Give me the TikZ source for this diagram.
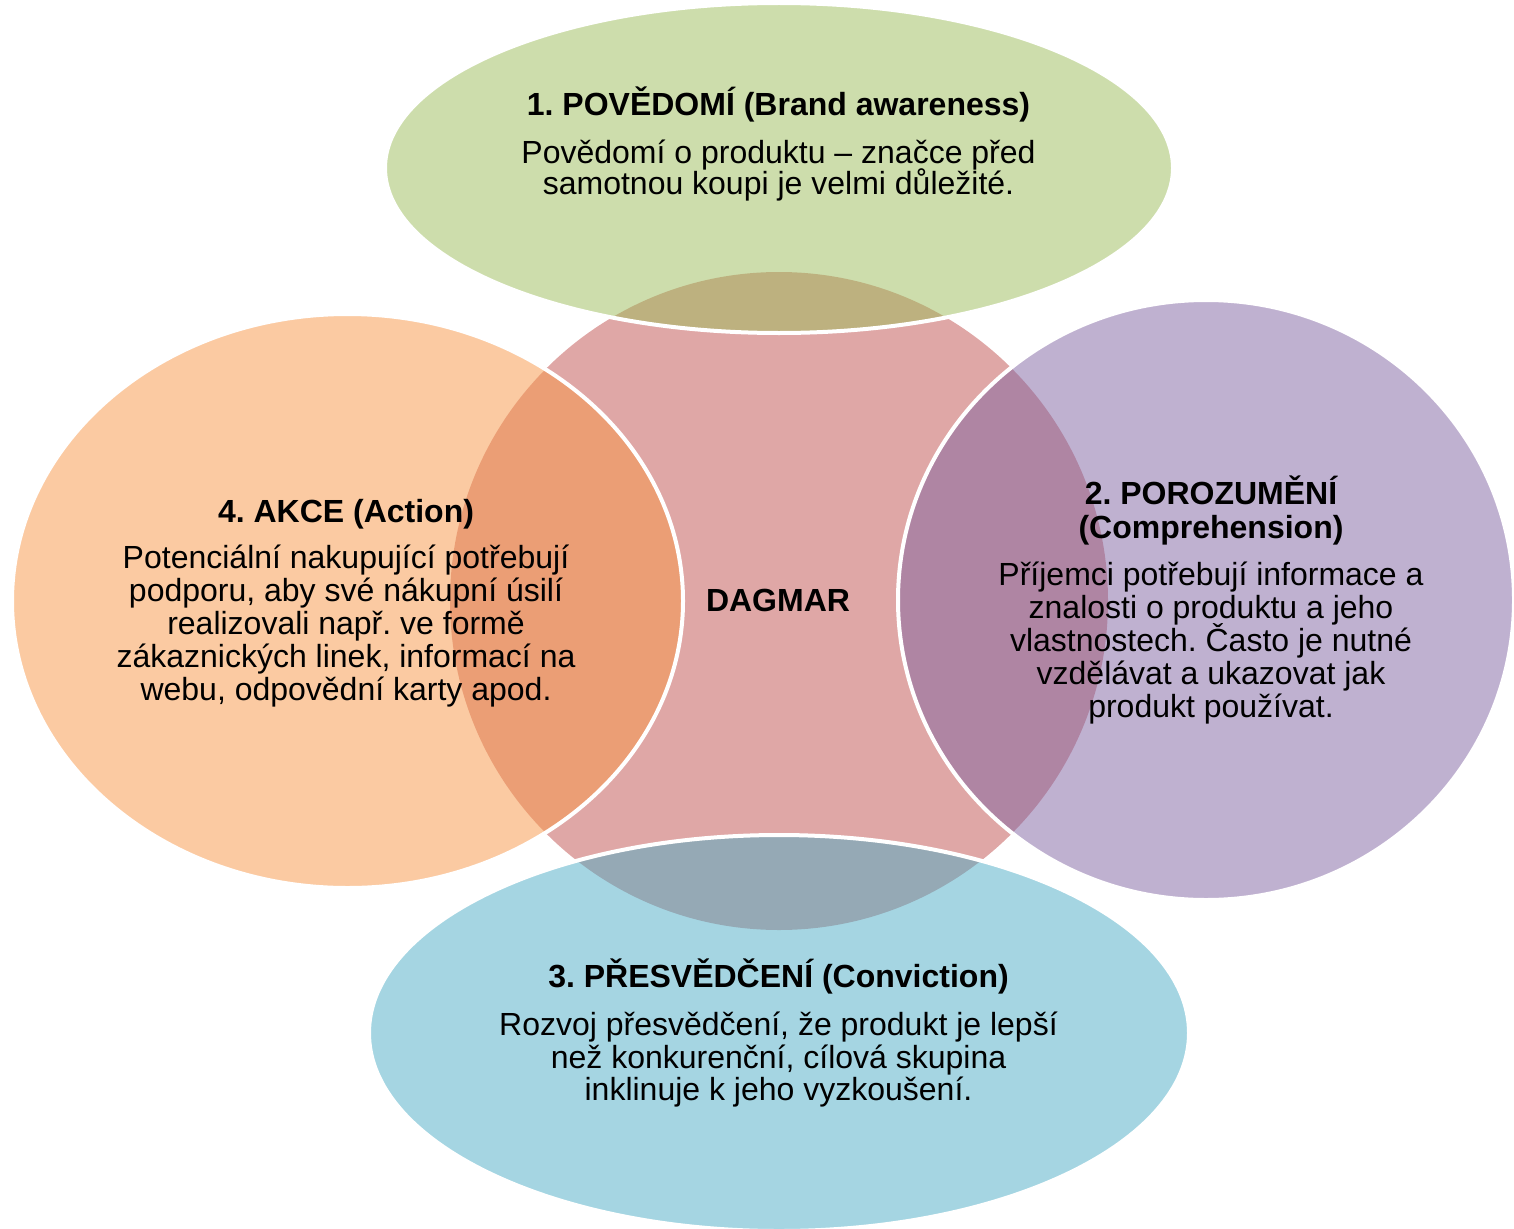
\documentclass[tikz,border=0pt]{standalone}
\usepackage{fontspec}
\setmainfont{Liberation Sans}
\definecolor{cred}{HTML}{C0504D}
\definecolor{cgreen}{HTML}{9BBB59}
\definecolor{corange}{HTML}{F79646}
\definecolor{cpurple}{HTML}{8064A2}
\definecolor{cblue}{HTML}{4BACC6}
\frenchspacing
\begin{document}
\begin{tikzpicture}[x=1pt,y=-1pt,
  venn/.style={fill opacity=0.5, draw=white, line width=4pt},
  ttl/.style={anchor=base, font=\fontsize{32}{33}\selectfont\bfseries, inner sep=0pt},
  txt/.style={anchor=base, font=\fontsize{32}{33}\selectfont, inner sep=0pt}]
\useasboundingbox (0,0) rectangle (1514,1228);
% central circle
\fill[cred, fill opacity=0.5] (779,601) circle [radius=329pt];
% satellites
\path[venn, fill=cgreen] (779,168) ellipse [x radius=394pt, y radius=165pt];
\path[venn, fill=corange] (347.5,601) ellipse [x radius=335.5pt, y radius=287pt];
\path[venn, fill=cpurple] (1206,600) ellipse [x radius=308pt, y radius=300pt];
\path[venn, fill=cblue] (779,1033) ellipse [x radius=410pt, y radius=198pt];
% centre label
\node[ttl] (dag) at (778,611) {DAGMAR};
% 1
\node[ttl] (t1) at (778.5,116) {1. POVĚDOMÍ (Brand awareness)};
\node[txt] (b1a) at (778.5,163) {Povědomí o produktu – značce před};
\node[txt] (b1b) at (778.5,194) {samotnou koupi je velmi důležité.};
% 4
\node[ttl] (t4) at (346,522) {4. AKCE (Action)};
\node[txt] (b4a) at (346,568) {Potenciální nakupující potřebují};
\node[txt] (b4b) at (346,601) {podporu, aby své nákupní úsilí};
\node[txt] (b4c) at (346,634) {realizovali např. ve formě};
\node[txt] (b4d) at (346,667) {zákaznických linek, informací na};
\node[txt] (b4e) at (346,700) {webu, odpovědní karty apod.};
% 2
\node[ttl] (t2a) at (1211,504) {2. POROZUMĚNÍ};
\node[ttl] (t2b) at (1211,538) {(Comprehension)};
\node[txt] (b2a) at (1211,585) {Příjemci potřebují informace a};
\node[txt] (b2b) at (1211,618) {znalosti o produktu a jeho};
\node[txt] (b2c) at (1211,651) {vlastnostech. Často je nutné};
\node[txt] (b2d) at (1211,684) {vzdělávat a ukazovat jak};
\node[txt] (b2e) at (1211,717) {produkt používat.};
% 3
\node[ttl] (t3) at (778.5,987) {3. PŘESVĚDČENÍ (Conviction)};
\node[txt] (b3a) at (778.5,1035) {Rozvoj přesvědčení, že produkt je lepší};
\node[txt] (b3b) at (778.5,1068) {než konkurenční, cílová skupina};
\node[txt] (b3c) at (778.5,1100) {inklinuje k jeho vyzkoušení.};
\end{tikzpicture}
\end{document}
